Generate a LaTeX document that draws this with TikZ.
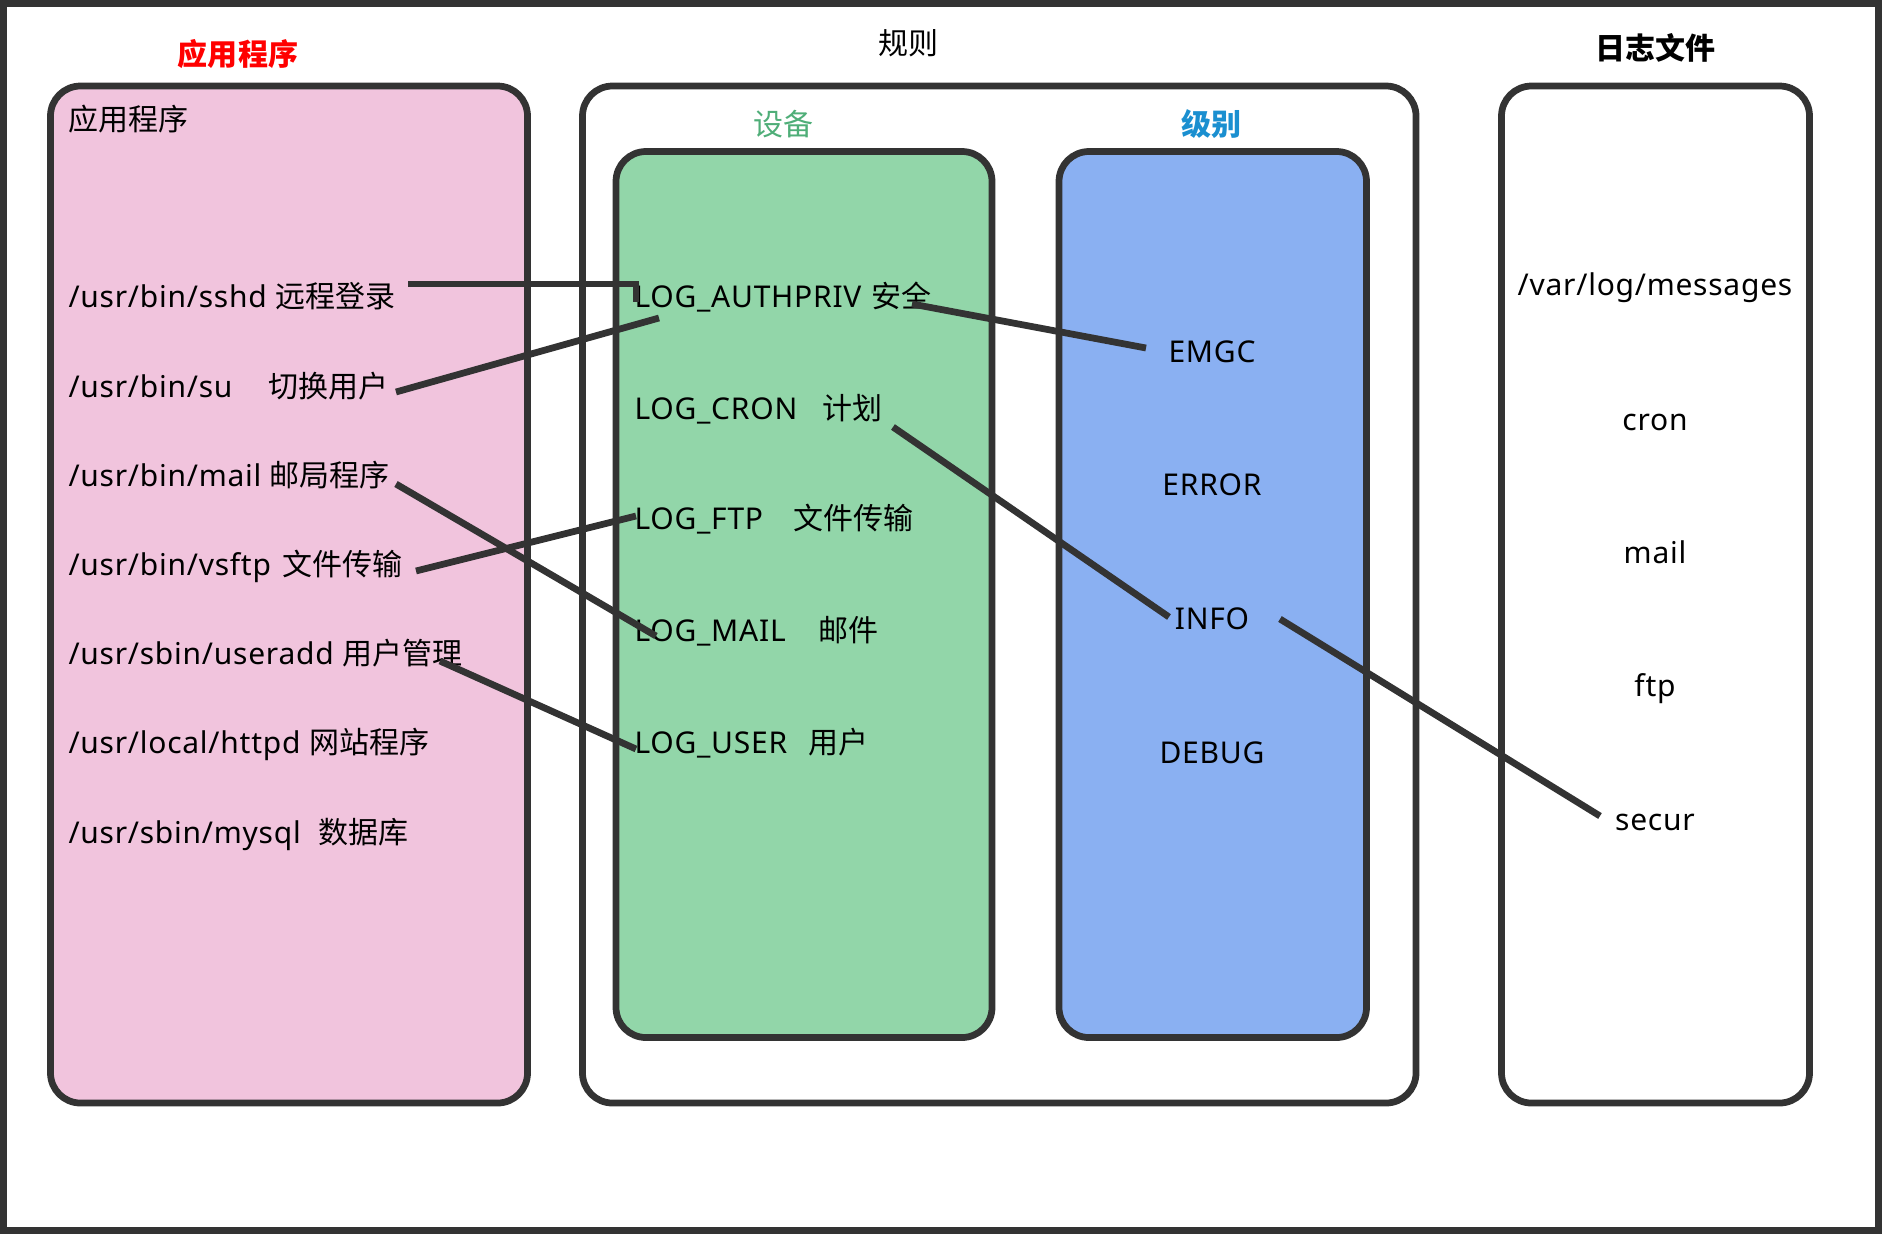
\documentclass[tikz,border=0pt]{standalone}
\usepackage{fontspec}
\setmainfont{Noto Sans}[LetterSpace=2.5]
\newfontfamily\cjkfont{Noto Sans CJK SC}
\newcommand{\zhs}[1]{{\cjkfont #1}}
\definecolor{dk}{HTML}{333333}
\definecolor{pinkc}{HTML}{F1C4DD}
\definecolor{greenc}{HTML}{92D6A9}
\definecolor{bluec}{HTML}{8AB0F2}
\definecolor{devgreen}{HTML}{4FAE78}
\definecolor{lvlblue}{HTML}{1A8FD0}
\definecolor{redc}{HTML}{FF0000}
\begin{document}
\begin{tikzpicture}[x=0.4pt,y=-0.4pt,
  box/.style={draw=dk, line width=2.7pt, rounded corners=12pt, anchor=north west, inner sep=0, outer sep=0},
  conn/.style={draw=dk, line width=2.7pt},
  txt/.style={font=\fontsize{12}{14}\selectfont, text=black, inner sep=0},
  lefttxt/.style={txt, anchor=base west},
  btxt/.style={txt, anchor=base},
  ctxt/.style={txt, anchor=center}]
\useasboundingbox (0,0) rectangle (1882,1234);
\draw[dk, line width=2.8pt] (3.5,3.5) rectangle (1878.5,1230.5);

% containers
\node[box, fill=pinkc, minimum width=190.8pt, minimum height=406.8pt] (apps) at (50.5,86) {};
\node[box, fill=white, minimum width=333.4pt, minimum height=406.8pt] (rules) at (582.5,86) {};
\node[box, fill=greenc, minimum width=150.4pt, minimum height=354.4pt] (fac) at (616,151.5) {};
\node[box, fill=bluec, minimum width=123pt, minimum height=354.4pt] (lvl) at (1059,151.5) {};
\node[box, fill=white, minimum width=123.2pt, minimum height=406.8pt] (logs) at (1501.5,86) {};

% titles
\node[ctxt, text=redc, font=\fontsize{12}{14}\selectfont\cjkfont\bfseries] (tapps) at (238,54) {应用程序};
\node[ctxt, font=\fontsize{12}{14}\selectfont\cjkfont] (trules) at (908,43) {规则};
\node[ctxt, font=\fontsize{12}{14}\selectfont\cjkfont\bfseries] (tlogs) at (1655,48) {日志文件};
\node[ctxt, text=devgreen, font=\fontsize{12}{14}\selectfont\cjkfont] (tfac) at (783,124) {设备};
\node[ctxt, text=lvlblue, font=\fontsize{12}{14}\selectfont\cjkfont\bfseries] (tlvl) at (1211,124) {级别};

% applications
\node[ctxt, anchor=west, font=\fontsize{12}{14}\selectfont\cjkfont] (appin) at (68,119) {应用程序};
\node[lefttxt] (sshd) at (68,307) {/usr/bin/sshd \zhs{远程登录}};
\node[lefttxt] (su) at (68,397) {/usr/bin/su\hspace{14.5pt}\zhs{切换用户}};
\node[lefttxt] (mail) at (68,486) {/usr/bin/mail \zhs{邮局程序}};
\node[lefttxt] (vsftp) at (68,575) {/usr/bin/vsftp\hspace{4.5pt}\zhs{文件传输}};
\node[lefttxt] (useradd) at (68,664) {/usr/sbin/useradd \zhs{用户管理}};
\node[lefttxt] (httpd) at (68,753) {/usr/local/httpd \zhs{网站程序}};
\node[lefttxt] (mysql) at (68,843) {/usr/sbin/mysql\hspace{7pt}\zhs{数据库}};

% facilities
\node[lefttxt] (authpriv) at (634,307) {LOG\_AUTHPRIV\hspace{4pt}\zhs{安全}};
\node[lefttxt] (cron) at (634,419) {LOG\_CRON\hspace{10pt}\zhs{计划}};
\node[lefttxt] (ftp) at (634,529) {LOG\_FTP\hspace{12pt}\zhs{文件传输}};
\node[lefttxt] (lmail) at (634,641) {LOG\_MAIL\hspace{13pt}\zhs{邮件}};
\node[lefttxt] (luser) at (634,753) {LOG\_USER\hspace{8.5pt}\zhs{用户}};

% levels
\node[btxt] (emgc) at (1212,362) {EMGC};
\node[btxt] (error) at (1212,495) {ERROR};
\node[btxt] (info) at (1212,629) {INFO};
\node[btxt] (debug) at (1212,763) {DEBUG};

% log files
\node[btxt] (messages) at (1655,295) {/var/log/messages};
\node[btxt] (fcron) at (1655,430) {cron};
\node[btxt] (fmail) at (1655,563) {mail};
\node[btxt] (fftp) at (1655,696) {ftp};
\node[btxt] (secur) at (1655,830) {secur};

% connector end points
\coordinate (sshdE) at (408,284);
\coordinate (authK) at (636,284);
\coordinate (authW) at (636,302);
\coordinate (suE) at (396,392);
\coordinate (authB) at (659,318);
\coordinate (mailE) at (396,484);
\coordinate (lmailW) at (656,636);
\coordinate (vsftpE) at (416,571);
\coordinate (ftpW) at (636,516);
\coordinate (useraddE) at (440,661);
\coordinate (luserW) at (636,749);
\coordinate (authE) at (912,304);
\coordinate (emgcW) at (1146,348);
\coordinate (cronE) at (893,427);
\coordinate (infoW) at (1169,617);
\coordinate (infoE) at (1280,619);
\coordinate (securW) at (1600,816);

\draw[conn] (sshdE) -- (authK) -- (authW);
\draw[conn] (suE) -- (authB);
\draw[conn] (mailE) -- (lmailW);
\draw[conn] (vsftpE) -- (ftpW);
\draw[conn] (useraddE) -- (luserW);
\draw[conn] (authE) -- (emgcW);
\draw[conn] (cronE) -- (infoW);
\draw[conn] (infoE) -- (securW);
\end{tikzpicture}
\end{document}
